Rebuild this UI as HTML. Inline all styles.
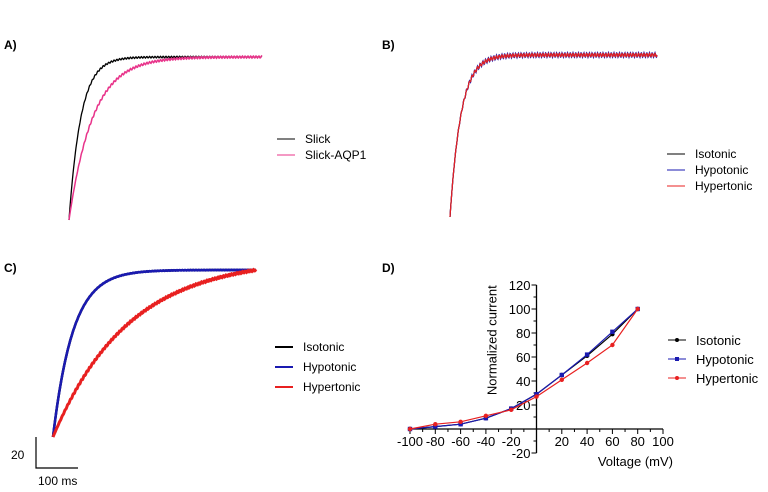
<!DOCTYPE html>
<html><head><meta charset="utf-8"><style>
body{margin:0;background:#fff}
svg{display:block;font-family:"Liberation Sans",Arial,sans-serif}
</style></head><body>
<svg id="s" width="768" height="492" viewBox="0 0 768 492">
<g font-size="12" font-weight="bold">
<text x="4" y="49">A)</text>
<text x="382" y="49">B)</text>
<text x="4" y="272">C)</text>
<text x="382" y="272">D)</text>
</g>
<g id="traces"></g>
<g font-size="12">
<line x1="277" y1="139" x2="295" y2="139" stroke="#000"/><text x="305" y="143">Slick</text>
<line x1="277" y1="155" x2="295" y2="155" stroke="#e8338a"/><text x="305" y="159">Slick-AQP1</text>
</g>
<g font-size="12">
<line x1="667" y1="154" x2="685" y2="154" stroke="#000"/><text x="695" y="158">Isotonic</text>
<line x1="667" y1="170" x2="685" y2="170" stroke="#1a1ab0"/><text x="695" y="174">Hypotonic</text>
<line x1="667" y1="186" x2="685" y2="186" stroke="#e82020"/><text x="695" y="190">Hypertonic</text>
</g>
<g font-size="12">
<line x1="275" y1="347" x2="293" y2="347" stroke="#000" stroke-width="2"/><text x="303" y="351">Isotonic</text>
<line x1="275" y1="367" x2="293" y2="367" stroke="#1a1ab0" stroke-width="2"/><text x="303" y="371">Hypotonic</text>
<line x1="275" y1="387" x2="293" y2="387" stroke="#e82020" stroke-width="2"/><text x="303" y="391">Hypertonic</text>
</g>
<g>
<path d="M36 437 V468 H78" fill="none" stroke="#000" stroke-width="1.2"/>
<text x="11" y="459" font-size="12">20</text>
<text x="38" y="485" font-size="12">100 ms</text>
</g>
<g id="d"></g>
</svg>
<script>
const NS='http://www.w3.org/2000/svg';
function mk(t,a,p){const e=document.createElementNS(NS,t);for(const k in a)e.setAttribute(k,a[k]);p.appendChild(e);return e;}
const tr=document.getElementById('traces');
function trace(x0,y0,x1,yp,tau,col,w,ripple,name){
  const norm=1-Math.exp(-(x1-x0)/tau);
  let d='';for(let x=x0;x<=x1;x+=0.5){const f=(1-Math.exp(-(x-x0)/tau))/norm;let y=y0-(y0-yp)*f+ripple*Math.sin(x*2.3)*Math.min(1,(x-x0)/20);d+=(d?'L':'M')+x.toFixed(1)+' '+y.toFixed(2);}
  const p=mk('path',{d:d,fill:'none',stroke:col,'stroke-width':w},tr);
  
  
}
trace(69,220,262,57,12,'#000',1.3,0.8,'trace-slick');
trace(69,220,262,57,24,'#e8338a',1.5,1.0,'trace-slick-aqp1');
trace(450,217,657,55,11,'#000',1.2,1.8,'trace-b-isotonic');
trace(450,217,657,55,11,'#1a1ab0',1.2,2.4,'trace-b-hypotonic');
trace(450,217,657,55,11,'#e82020',1.2,1.6,'trace-b-hypertonic');
trace(53,437,256,270,20,'#000',2.5,0,'trace-c-isotonic');
trace(53,437,256,270,20,'#1a1ab0',2.5,0.3,'trace-c-hypotonic');
trace(53,437,256,270,75,'#e82020',3,0.8,'trace-c-hypertonic');

// Panel D data
const voltages=[-100,-80,-60,-40,-20,0,20,40,60,80];
const isotonic=[0,2,4,9,17,29,45,61,79,100];
const hypotonic=[0,2,4,9,17,29,45,62,81,100];
const hypertonic=[0,4,6,11,16,27,41,55,70,100];
const xTicks=[-100,-80,-60,-40,-20,20,40,60,80,100];
const yTicks=[-20,20,40,60,80,100,120];
const g=document.getElementById('d');
const X=v=>536.5+v*1.265, Y=v=>429-v*1.2;
mk('line',{x1:X(-100),y1:Y(0),x2:X(100),y2:Y(0),stroke:'#000','stroke-width':1.3},g);
mk('line',{x1:X(0),y1:Y(-20),x2:X(0),y2:Y(120),stroke:'#000','stroke-width':1.3},g);
for(let v=-100;v<=100;v+=10){const l=mk('line',{x1:X(v),y1:Y(0),x2:X(v),y2:Y(0)+(v%20?3:5),stroke:'#000'},g);}
for(let v=-20;v<=120;v+=10){const l=mk('line',{x1:X(0)-(v%20?3:5),y1:Y(v),x2:X(0),y2:Y(v),stroke:'#000'},g);}
xTicks.forEach(v=>{const t=mk('text',{x:X(v),y:Y(0)+17,'font-size':13,'text-anchor':'middle'},g);t.textContent=v;});
yTicks.forEach(v=>{const t=mk('text',{x:X(0)-6,y:Y(v)+5,'font-size':13,'text-anchor':'end'},g);t.textContent=v;});
let t=mk('text',{x:X(100)+10,y:Y(0)+37,'font-size':13,'text-anchor':'end'},g);t.textContent='Voltage (mV)';

t=mk('text',{x:0,y:0,'font-size':13,'text-anchor':'middle',transform:`translate(${X(0)-40},${Y(74)}) rotate(-90)`},g);t.textContent='Normalized current';

function series(vals,col,shape,name){
  const p=mk('polyline',{points:voltages.map((v,i)=>X(v)+','+Y(vals[i])).join(' '),fill:'none',stroke:col,'stroke-width':1.2},g);
  
  voltages.forEach((v,i)=>{const m=shape==='sq'?mk('rect',{x:X(v)-2.2,y:Y(vals[i])-2.2,width:4.4,height:4.4,fill:col},g):mk('circle',{cx:X(v),cy:Y(vals[i]),r:2.2,fill:col},g);
    });
}
series(isotonic,'#000','c','isotonic');
series(hypotonic,'#1a1ab0','sq','hypotonic');
series(hypertonic,'#e82020','c','hypertonic');
const leg=[['Isotonic','#000','c'],['Hypotonic','#1a1ab0','sq'],['Hypertonic','#e82020','c']];
leg.forEach((l,i)=>{const y=340+i*19;
  const e=mk('line',{x1:668,y1:y,x2:686,y2:y,stroke:l[1]},g);
  if(l[2]==='sq')mk('rect',{x:675,y:y-2,width:4,height:4,fill:l[1]},g);else mk('circle',{cx:677,cy:y,r:2,fill:l[1]},g);
  const tt=mk('text',{x:696,y:y+5,'font-size':13},g);tt.textContent=l[0];
  });
</script>
</body></html>
